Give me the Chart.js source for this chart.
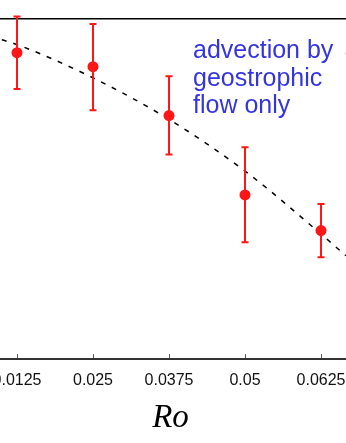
<!DOCTYPE html>
<html>
<head>
<meta charset="utf-8">
<script src="https://cdn.jsdelivr.net/npm/chart.js@4"></script>
<style>
  html, body { margin: 0; padding: 0; background: #fff; }
  body { width: 346px; height: 443px; overflow: hidden; position: relative; }
  #wrap { position: absolute; left: -60px; top: 0; width: 461px; height: 443px; }
  #note { position: absolute; left: 193px; top: 36px; font-family: "Liberation Sans", Arial, sans-serif;
          font-size: 25px; line-height: 27.5px; color: #3535dd; white-space: nowrap; }
</style>
</head>
<body>
<div id="wrap"><canvas id="c"></canvas></div>
<div id="note">advection by ←<br>geostrophic<br>flow only</div>
<script>
// ---- data ----
const roValues   = [0.0125, 0.025, 0.0375, 0.05, 0.0625];
const measured   = [0.901, 0.860, 0.716, 0.483, 0.378];
const errUpper   = [1.007, 0.985, 0.832, 0.623, 0.456];
const errLower   = [0.794, 0.732, 0.602, 0.344, 0.300];
const curveRo    = [0.0100, 0.0125, 0.025, 0.0375, 0.05, 0.0625, 0.0666];
const curveVal   = [0.939, 0.925, 0.827, 0.705, 0.553, 0.368, 0.304];
const tickLabels = ['0.0125', '0.025', '0.0375', '0.05', '0.0625'];
const axisTitle  = 'Ro';

const RED = 'rgb(255,22,22)';

const errorBars = {
  id: 'errorBars',
  beforeDatasetDraw(chart, args) {
    if (args.index !== 0) return;
    const {ctx} = chart;
    const xs = chart.scales.x, ys = chart.scales.y;
    ctx.save();
    ctx.strokeStyle = RED;
    ctx.lineWidth = 2;
    for (let i = 0; i < roValues.length; i++) {
      const px = Math.round(xs.getPixelForValue(roValues[i]));
      const t = ys.getPixelForValue(errUpper[i]);
      const b = ys.getPixelForValue(errLower[i]);
      ctx.beginPath();
      ctx.moveTo(px, t); ctx.lineTo(px, b);
      ctx.moveTo(px - 3.5, t); ctx.lineTo(px + 3.5, t);
      ctx.moveTo(px - 3.5, b); ctx.lineTo(px + 3.5, b);
      ctx.stroke();
    }
    ctx.restore();
  }
};

new Chart(document.getElementById('c'), {
  type: 'scatter',
  data: {
    datasets: [
      {
        data: roValues.map((x, i) => ({x, y: measured[i]})),
        backgroundColor: RED,
        borderWidth: 0,
        pointRadius: 5.5,
        clip: false
      },
      {
        type: 'line',
        data: curveRo.map((x, i) => ({x, y: curveVal[i]})),
        showLine: true,
        borderColor: '#000',
        borderWidth: 1.5,
        borderDash: [5, 7],
        pointRadius: 0,
        cubicInterpolationMode: 'monotone',
        fill: false
      }
    ]
  },
  options: {
    responsive: true,
    maintainAspectRatio: false,
    animation: false,
    layout: { autoPadding: false, padding: { top: 19, left: 0, right: 0, bottom: 0 } },
    plugins: { legend: { display: false }, tooltip: { enabled: false } },
    scales: {
      x: {
        type: 'linear',
        position: 'bottom',
        min: -0.0001645,
        max: 0.0756579,
        afterBuildTicks: (s) => { s.ticks = roValues.map(v => ({value: v})); },
        ticks: {
          callback: (v, i) => tickLabels[i],
          color: '#111',
          font: { family: '"Liberation Sans", Arial, sans-serif', size: 16 },
          padding: 17,
          maxRotation: 0,
          autoSkip: false
        },
        grid: { drawOnChartArea: false, drawTicks: true, tickLength: -5, color: '#555', lineWidth: 1 },
        border: { display: true, color: '#333', width: 2 },
        title: {
          display: true,
          text: axisTitle,
          color: '#000',
          font: { family: '"Liberation Serif", "Times New Roman", serif', style: 'italic', size: 33, lineHeight: 1.2 },
          padding: { top: -9, bottom: 5 }
        }
      },
      x2: {
        type: 'linear',
        position: 'top',
        min: -0.0001645,
        max: 0.0756579,
        ticks: { display: false },
        grid: { display: false, drawTicks: false },
        border: { display: true, color: '#000', width: 1.5 }
      },
      y: {
        type: 'linear',
        min: 0,
        max: 1,
        display: false
      }
    }
  },
  plugins: [errorBars]
});
</script>
</body>
</html>
